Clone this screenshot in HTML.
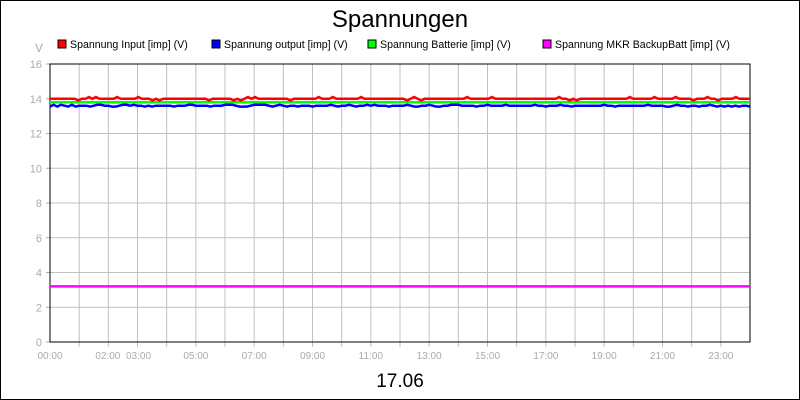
<!DOCTYPE html>
<html><head><meta charset="utf-8"><style>
body{margin:0;background:#fff}
svg{display:block;font-family:"Liberation Sans",sans-serif}
</style></head><body>
<svg id="chart" width="800" height="400">
<rect x="0.5" y="0.5" width="799" height="399" fill="#fff" stroke="#000"/>
<text x="400" y="27" font-size="24" text-anchor="middle">Spannungen</text>
<text x="400" y="387" font-size="19" text-anchor="middle">17.06</text>
<text x="43" y="52" font-size="12" fill="#aaa" text-anchor="end">V</text>
<g id="legend"></g>
<g id="grid"></g>
<g id="axes"></g>
<g id="series"></g>
</svg>
<script>
const yTicks=[0,2,4,6,8,10,12,14,16];
const xTickLabels=["00:00","02:00","03:00","05:00","07:00","09:00","11:00","13:00","15:00","17:00","19:00","21:00","23:00"];
const xTickHours=[0,2,3,5,7,9,11,13,15,17,19,21,23];
const seriesNames=["Spannung Input [imp] (V)","Spannung output [imp] (V)","Spannung Batterie [imp] (V)","Spannung MKR BackupBatt [imp] (V)"];
const inputV=[14.0,14.0,14.0,14.0,14.0,14.0,14.0,14.0,13.9,14.0,14.0,14.1,14.0,14.1,14.0,14.0,14.0,14.0,14.0,14.1,14.0,14.0,14.0,14.0,14.0,14.1,14.0,14.0,14.0,13.9,14.0,13.9,14.0,14.0,14.0,14.0,14.0,14.0,14.0,14.0,14.0,14.0,14.0,14.0,14.0,13.9,14.0,14.0,14.0,14.0,14.0,14.0,13.9,14.0,13.9,14.0,14.1,14.0,14.1,14.0,14.0,14.0,14.0,14.0,14.0,14.0,14.0,14.0,13.9,14.0,14.0,14.0,14.0,14.0,14.0,14.0,14.1,14.0,14.0,14.0,14.1,14.0,14.0,14.0,14.0,14.0,14.0,14.0,14.1,14.0,14.0,14.0,14.0,14.0,14.0,14.0,
14.0,14.0,14.0,14.0,14.0,13.9,14.0,14.1,14.0,13.9,14.0,14.0,14.0,14.0,14.0,14.0,14.0,14.0,14.0,14.0,14.0,14.0,14.1,14.0,14.0,14.0,14.0,14.0,14.0,14.1,14.0,14.0,14.0,14.0,14.0,14.0,14.0,14.0,14.0,14.0,14.0,14.0,14.0,14.0,14.0,14.0,14.0,14.0,14.1,14.0,14.0,13.9,14.0,13.9,14.0,14.0,14.0,14.0,14.0,14.0,14.0,14.0,14.0,14.0,14.0,14.0,14.0,14.0,14.1,14.0,14.0,14.0,14.0,14.0,14.0,14.1,14.0,14.0,14.0,14.0,14.0,14.1,14.0,14.0,14.0,14.0,13.9,14.0,14.0,14.0,14.1,14.0,14.0,13.9,14.0,14.0,14.0,14.0,14.1,14.0,14.0,14.0,14.0];
const outputV=[13.55,13.65,13.55,13.65,13.6,13.55,13.65,13.55,13.6,13.6,13.6,13.55,13.6,13.65,13.65,13.6,13.6,13.55,13.55,13.6,13.65,13.65,13.6,13.65,13.6,13.6,13.55,13.6,13.55,13.6,13.6,13.6,13.6,13.6,13.55,13.6,13.6,13.6,13.65,13.65,13.6,13.6,13.6,13.6,13.55,13.6,13.6,13.6,13.65,13.65,13.65,13.6,13.55,13.55,13.55,13.6,13.65,13.65,13.65,13.65,13.6,13.55,13.6,13.65,13.6,13.55,13.6,13.6,13.55,13.6,13.6,13.6,13.55,13.6,13.6,13.6,13.6,13.65,13.6,13.55,13.6,13.6,13.65,13.6,13.55,13.6,13.6,13.65,13.6,13.65,13.6,13.6,13.6,13.55,13.6,13.6,
13.6,13.6,13.65,13.6,13.55,13.55,13.6,13.6,13.65,13.6,13.55,13.55,13.6,13.6,13.65,13.65,13.65,13.6,13.6,13.6,13.6,13.55,13.6,13.6,13.65,13.6,13.6,13.6,13.6,13.65,13.6,13.6,13.6,13.6,13.6,13.6,13.6,13.65,13.6,13.6,13.55,13.6,13.6,13.6,13.65,13.6,13.6,13.55,13.6,13.6,13.6,13.6,13.6,13.6,13.6,13.6,13.65,13.6,13.6,13.55,13.6,13.6,13.6,13.6,13.6,13.6,13.6,13.6,13.65,13.6,13.6,13.6,13.6,13.55,13.55,13.6,13.65,13.6,13.6,13.55,13.6,13.6,13.55,13.6,13.6,13.65,13.6,13.55,13.6,13.55,13.6,13.55,13.6,13.55,13.6,13.6,13.55];
const battV=inputV.map(()=>13.8);
const mkrV=inputV.map(()=>3.2);
const colors=["#ff0000","#0000ff","#00ff00","#ff00ff"];
const NS="http://www.w3.org/2000/svg";
const X0=50,X1=750,Y0=342,Y1=64;
const xs=h=>X0+(X1-X0)*h/24;
const ys=v=>Y0-(Y0-Y1)*v/16;
function mk(t,a,p){const e=document.createElementNS(NS,t);for(const k in a)e.setAttribute(k,a[k]);p.appendChild(e);return e;}
const grid=document.getElementById('grid'),axes=document.getElementById('axes'),ser=document.getElementById('series'),leg=document.getElementById('legend');
for(let h=1;h<24;h++){const l=mk('line',{x1:xs(h),x2:xs(h),y1:Y1,y2:Y0+5,stroke:'#c0c0c0'},grid);

}
yTicks.forEach(v=>{if(v>0&&v<16){const l=mk('line',{x1:X0,x2:X1,y1:ys(v),y2:ys(v),stroke:'#c0c0c0'},grid);

}
const tk=mk('line',{x1:X0-4,x2:X0,y1:ys(v),y2:ys(v),stroke:'#aaa'},axes);


const t=mk('text',{x:X0-8,y:ys(v)+4,'font-size':11,fill:'#aaa','text-anchor':'end'},axes);t.textContent=v;

});
xTickLabels.forEach((s,i)=>{let x=xs(xTickHours[i]);if(s==="02:00")x-=0.5;if(s==="03:00")x+=1;
const t=mk('text',{x:x,y:Y0+17,'font-size':10,fill:'#aaa','text-anchor':'middle'},axes);t.textContent=s;

});
const fr=mk('rect',{x:X0,y:Y1,width:X1-X0,height:Y0-Y1,fill:'none',stroke:'#000'},axes);


[[mkrV,3],[battV,2],[outputV,1],[inputV,0]].forEach(([d,ci])=>{
const n=d.length;const pts=d.map((v,i)=>xs(24*i/(n-1)).toFixed(1)+','+ys(v).toFixed(1)).join(' ');
const p=mk('polyline',{points:pts,fill:'none',stroke:colors[ci],'stroke-width':2.5},ser);

});
const lx=[58,212,368,543];
seriesNames.forEach((s,i)=>{const r=mk('rect',{x:lx[i],y:40,width:8,height:8,fill:colors[i],stroke:'#000'},leg);


const t=mk('text',{x:lx[i]+12,y:48,'font-size':10.6},leg);t.textContent=s;

});
</script>
</body></html>
